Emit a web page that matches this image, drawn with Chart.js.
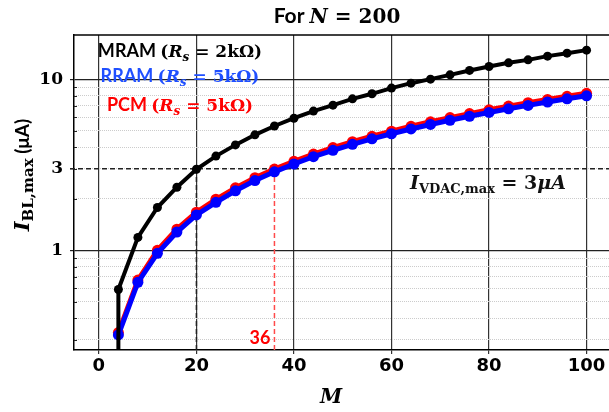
<!DOCTYPE html>
<html>
<head>
<meta charset="utf-8">
<script src="https://cdn.jsdelivr.net/npm/chart.js@4/dist/chart.umd.min.js"></script>
<style>
  html, body { margin: 0; padding: 0; background: #fff; }
  #wrap { width: 609px; height: 412px; }
</style>
</head>
<body>
<div id="wrap"><canvas id="chart"></canvas></div>
<script>
// number of columns M (one point every 4)
const mValues = [4, 8, 12, 16, 20, 24, 28, 32, 36, 40, 44, 48, 52, 56, 60, 64, 68, 72, 76, 80, 84, 88, 92, 96, 100];

// maximum bit-line current in µA
const mramCurrent = [0.59, 1.19, 1.78, 2.34, 2.98, 3.56, 4.14, 4.74, 5.34, 5.93, 6.53, 7.07, 7.70, 8.24, 8.90, 9.51, 10.04, 10.64, 11.29, 11.91, 12.51, 13.02, 13.69, 14.25, 14.84];
const rramCurrent = [0.32, 0.65, 0.96, 1.28, 1.61, 1.91, 2.23, 2.56, 2.88, 3.20, 3.53, 3.85, 4.17, 4.49, 4.81, 5.13, 5.45, 5.77, 6.09, 6.41, 6.73, 7.05, 7.38, 7.70, 8.02];
const pcmCurrent  = [0.33, 0.67, 1.00, 1.33, 1.67, 1.99, 2.32, 2.66, 2.99, 3.32, 3.66, 3.99, 4.32, 4.65, 4.98, 5.32, 5.65, 5.98, 6.31, 6.64, 6.98, 7.31, 7.64, 7.97, 8.30];
// MRAM curve drops off the bottom of the axis at M = 4
const mramLead = 0.1;

const xTicks = [0, 20, 40, 60, 80, 100];
const yTicks = [1, 3, 10];
const yMinor = [0.3, 0.4, 0.5, 0.6, 0.7, 0.8, 0.9, 2, 3, 4, 5, 6, 7, 8, 9];

const vdacLimit = 3;     // I_VDAC,max
const mAtLimit = 36;     // PCM reaches the limit here
const mramAtLimit = 20;  // MRAM reaches the limit here

const SERIF = '"DejaVu Serif", serif';
const SANS = 'Lato, "DejaVu Sans", sans-serif';

function pts(ys) {
  return ys.map((y, i) => ({ x: mValues[i], y: y }));
}

// draw a line of mixed fonts (plain text + math bits)
function drawRich(ctx, parts, x, y, align) {
  let total = 0;
  parts.forEach(p => { ctx.font = p.f; p.w = ctx.measureText(p.t).width; total += p.w; });
  let cx = align === 'center' ? x - total / 2 : x;
  ctx.textAlign = 'left';
  ctx.textBaseline = 'alphabetic';
  parts.forEach(p => {
    ctx.font = p.f;
    ctx.fillStyle = p.c;
    ctx.fillText(p.t, cx, y + (p.dy || 0));
    cx += p.w;
  });
}

function legendLine(label, rs, color, y) {
  return {
    y: y,
    parts: [
      { t: label + ' ', f: 'bold 18px ' + SANS, c: color },
      { t: '(', f: 'bold 17px ' + SERIF, c: color },
      { t: 'R', f: 'italic bold 17px ' + SERIF, c: color },
      { t: 's', f: 'italic bold 12px ' + SERIF, c: color, dy: 4 },
      { t: ' = ' + rs + ')', f: 'bold 17px ' + SERIF, c: color },
    ],
  };
}

const textPlugin = {
  id: 'texts',
  beforeDatasetsDraw(chart) {
    const { ctx, chartArea: a, scales: { x, y } } = chart;
    ctx.save();
    // limit lines
    const y3 = y.getPixelForValue(vdacLimit);
    ctx.lineWidth = 1.5;
    ctx.setLineDash([5, 3]);
    ctx.strokeStyle = '#222';
    ctx.beginPath();
    ctx.moveTo(a.left - 4, y3);
    ctx.lineTo(a.right, y3);
    ctx.moveTo(x.getPixelForValue(mramAtLimit), a.bottom);
    ctx.lineTo(x.getPixelForValue(mramAtLimit), y3);
    ctx.stroke();
    ctx.strokeStyle = '#ff4a4a';
    ctx.beginPath();
    ctx.moveTo(x.getPixelForValue(mAtLimit), a.bottom);
    ctx.lineTo(x.getPixelForValue(mAtLimit), y3);
    ctx.stroke();
    ctx.setLineDash([]);
    // inward minor ticks on the y axis
    ctx.strokeStyle = '#222';
    ctx.lineWidth = 1;
    ctx.beginPath();
    yMinor.forEach(v => {
      const py = Math.round(y.getPixelForValue(v)) + 0.5;
      ctx.moveTo(a.left, py);
      ctx.lineTo(a.left + 3, py);
    });
    ctx.stroke();
    ctx.restore();
  },
  afterDraw(chart) {
    const { ctx, chartArea: a, scales: { x, y } } = chart;
    ctx.save();
    // top frame line
    ctx.strokeStyle = '#000';
    ctx.lineWidth = 1.5;
    ctx.beginPath();
    ctx.moveTo(a.left, a.top);
    ctx.lineTo(a.right, a.top);
    ctx.stroke();

    // title
    drawRich(ctx, [
      { t: 'For ', f: 'bold 21px ' + SANS, c: '#000' },
      { t: 'N', f: 'italic bold 20px ' + SERIF, c: '#000' },
      { t: ' = 200', f: 'bold 20px ' + SERIF, c: '#000' },
    ], 337, 23, 'center');

    // series labels
    [
      legendLine('MRAM', '2kΩ', '#000', 57),
      legendLine('RRAM', '5kΩ', '#1f4fff', 82),
      legendLine('PCM', '5kΩ', '#ff0000', 111),
    ].forEach(l => drawRich(ctx, l.parts, 180, l.y, 'center'));

    // limit annotation
    drawRich(ctx, [
      { t: 'I', f: 'italic bold 19px ' + SERIF, c: '#111' },
      { t: 'VDAC,max', f: 'bold 13px ' + SERIF, c: '#111', dy: 4 },
      { t: ' = 3', f: 'bold 19px ' + SERIF, c: '#111' },
      { t: 'μA', f: 'italic bold 19px ' + SERIF, c: '#111' },
    ], 488, 189, 'center');

    // crossing point label
    ctx.font = 'bold 18px ' + SANS;
    ctx.fillStyle = '#ff0000';
    ctx.textAlign = 'right';
    ctx.textBaseline = 'alphabetic';
    ctx.fillText(String(mAtLimit), x.getPixelForValue(mAtLimit) - 4, 344);

    // axis titles
    drawRich(ctx, [
      { t: 'M', f: 'italic bold 20px ' + SERIF, c: '#000' },
    ], 331, 403, 'center');

    ctx.translate(29, 175);
    ctx.rotate(-Math.PI / 2);
    drawRich(ctx, [
      { t: 'I', f: 'italic bold 21px ' + SERIF, c: '#000' },
      { t: 'BL,max', f: 'bold 15px ' + SERIF, c: '#000', dy: 4 },
      { t: ' (μA)', f: 'bold 19px ' + SANS, c: '#000' },
    ], 0, 0, 'center');
    ctx.restore();
  },
};

new Chart(document.getElementById('chart'), {
  type: 'line',
  data: {
    datasets: [
      {
        label: 'MRAM',
        data: [{ x: mValues[0], y: mramLead }].concat(pts(mramCurrent)),
        borderColor: '#000',
        backgroundColor: '#000',
        borderWidth: 4,
        pointRadius: (c) => (c.dataIndex === 0 ? 0 : 4.5),
        pointBorderWidth: 0,
        tension: 0,
      },
      {
        label: 'RRAM',
        data: pts(rramCurrent),
        borderColor: '#0000ff',
        backgroundColor: '#0000ff',
        borderWidth: 5,
        pointRadius: 5.5,
        pointBorderWidth: 0,
        tension: 0,
      },
      {
        label: 'PCM',
        data: pts(pcmCurrent),
        borderColor: '#ff0000',
        backgroundColor: '#ff0000',
        borderWidth: 5,
        pointRadius: 5.5,
        pointBorderWidth: 0,
        tension: 0,
      },
    ],
  },
  options: {
    responsive: true,
    maintainAspectRatio: false,
    animation: false,
    layout: { autoPadding: false, padding: { top: 35, right: 0, left: 0, bottom: 0 } },
    plugins: {
      legend: { display: false },
      tooltip: { enabled: false },
    },
    scales: {
      x: {
        type: 'linear',
        min: -5.1,
        max: 104.6,
        afterBuildTicks: (s) => { s.ticks = xTicks.map(v => ({ value: v })); },
        afterFit: (s) => { s.height = 62; s.paddingLeft = 0; s.paddingRight = 0; },
        ticks: {
          color: '#000',
          padding: 2,
          font: { family: '"DejaVu Sans"', size: 18, weight: 'bold' },
        },
        grid: { color: '#333', lineWidth: 1.2, tickLength: 4, tickColor: '#333' },
        border: { color: '#000', width: 1.5 },
      },
      y: {
        type: 'logarithmic',
        min: 0.261,
        max: 18.2,
        afterBuildTicks: (s) => { s.ticks = yTicks.map(v => ({ value: v })); },
        afterFit: (s) => { s.width = 74; s.paddingTop = 0; s.paddingBottom = 0; },
        ticks: {
          color: '#000',
          padding: 7,
          font: { family: '"DejaVu Serif"', size: 17, weight: 'bold' },
          callback: (v) => String(v),
        },
        grid: {
          color: (c) => (c.tick && c.tick.value === vdacLimit ? 'rgba(0,0,0,0)' : '#222'),
          lineWidth: 1.2,
          tickLength: 4,
          tickColor: '#222',
        },
        border: { color: '#000', width: 1.5 },
      },
      yMinor: {
        type: 'logarithmic',
        position: 'left',
        min: 0.261,
        max: 18.2,
        afterBuildTicks: (s) => { s.ticks = yMinor.map(v => ({ value: v })); },
        afterFit: (s) => { s.width = 0; },
        ticks: { display: false },
        grid: { color: '#cccccc', lineWidth: 1, drawTicks: false },
        border: { display: false, dash: [1, 1] },
      },
    },
  },
  plugins: [textPlugin],
});
</script>
</body>
</html>
